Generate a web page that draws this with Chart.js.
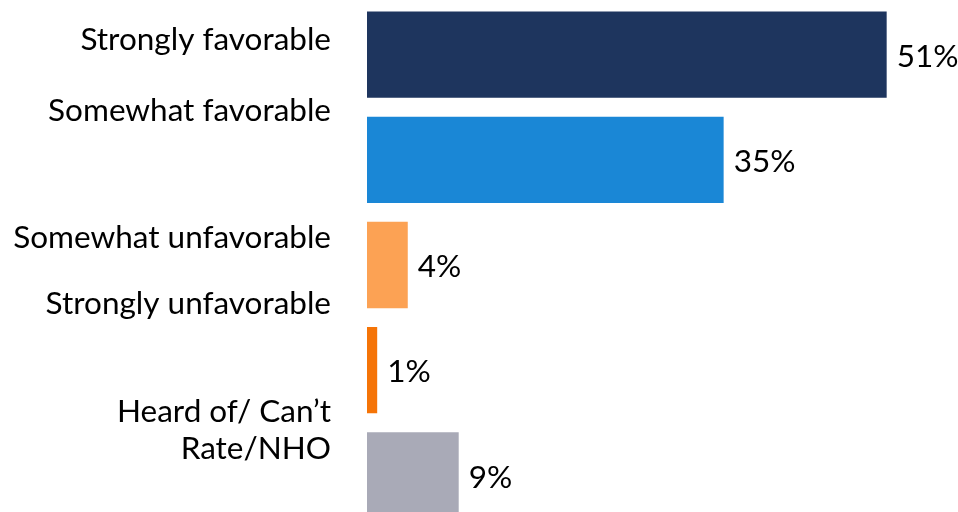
<!DOCTYPE html>
<html>
<head>
  <title>Favorability</title>
  <style>
    body {
      margin: 0;
      padding: 0;
      background-color: #ffffff;
      overflow: hidden;
    }
    #wrap {
      width: 958px;
      height: 512px;
      overflow: hidden;
    }
  </style>
  <script src="https://cdn.jsdelivr.net/npm/chart.js"></script>
</head>
<body>
  <div id="wrap">
    <canvas id="fav_chart" width="958" height="528"></canvas>
  </div>

  <script>
    // 데이터
    var categories = ['Strongly favorable', 'Somewhat favorable', 'Somewhat unfavorable', 'Strongly unfavorable', ['Heard of/ Can\u2019t', 'Rate/NHO']];
    var values = [51, 35, 4, 1, 9];
    var valueLabels = ['51%', '35%', '4%', '1%', '9%'];
    var barColors = ['#1e355e', '#1a87d6', '#fca254', '#f57407', '#a9aab7'];
    // label shift from bar centre (labels sit off the bars in the original)
    var labelShift = [-15, -49, -27, -66, -45];

    var FONT = '31.5px Lato, "Open Sans", sans-serif';

    var labelPlugin = {
      id: 'labelPlugin',
      afterDatasetsDraw: function(chart) {
        var ctx = chart.ctx;
        var meta = chart.getDatasetMeta(0);
        ctx.save();
        ctx.font = FONT;
        ctx.fillStyle = '#000000';
        ctx.textBaseline = 'middle';
        meta.data.forEach(function(bar, i) {
          // value label
          ctx.textAlign = 'left';
          ctx.fillText(valueLabels[i], bar.x + 10, bar.y + 2);
          // category label
          ctx.textAlign = 'right';
          var lines = Array.isArray(categories[i]) ? categories[i] : [categories[i]];
          var lh = 37;
          var y0 = bar.y + labelShift[i] - (lines.length - 1) * lh / 2;
          lines.forEach(function(line, k) {
            ctx.fillText(line, 331, y0 + k * lh);
          });
        });
        ctx.restore();
      }
    };

    var favChart = new Chart(document.getElementById('fav_chart'), {
      type: 'bar',
      data: {
        labels: categories,
        datasets: [{
          data: values,
          backgroundColor: barColors,
          barPercentage: 0.82,
          categoryPercentage: 1.0
        }]
      },
      options: {
        indexAxis: 'y',
        responsive: false,
        animation: false,
        devicePixelRatio: 1,
        layout: {
          padding: { left: 367, right: 0, top: 2, bottom: 0 }
        },
        plugins: {
          legend: { display: false },
          tooltip: { enabled: false }
        },
        scales: {
          x: { display: false, min: 0, max: 58 },
          y: { display: false }
        }
      },
      plugins: [labelPlugin]
    });
  </script>
</body>
</html>
